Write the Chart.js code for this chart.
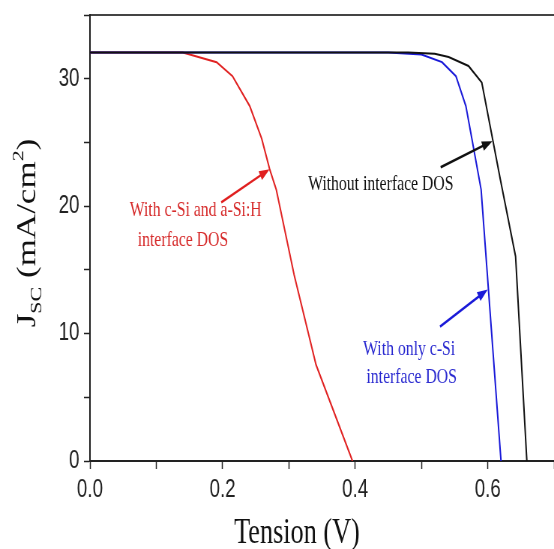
<!DOCTYPE html>
<html lang="en">
<head>
    <meta charset="UTF-8">
    <title>Jsc vs Tension</title>
    <script src="https://cdn.jsdelivr.net/npm/chart.js"></script>
    <style>
        html, body {
            margin: 0;
            padding: 0;
            background: #fff;
            overflow: hidden;
        }
        /* the original figure is squeezed horizontally */
        #wrap {
            width: 739px;
            height: 549px;
            transform: scaleX(0.7497);
            transform-origin: 0 0;
        }
    </style>
</head>
<body>
    <div id="wrap">
        <canvas id="jscChart" width="739" height="549"></canvas>
    </div>

    <script>
        // data (V in volts, J in mA/cm2)
        const noDosV = [0, 0.48, 0.52, 0.541, 0.571, 0.591, 0.619, 0.642, 0.659];
        const noDosJ = [32.05, 32.05, 31.95, 31.7, 31.0, 29.7, 22.1, 16.05, 0];

        const cSiV = [0, 0.45, 0.5, 0.531, 0.552, 0.567, 0.576, 0.59, 0.62];
        const cSiJ = [32.05, 32.05, 31.9, 31.3, 30.2, 27.85, 25.3, 21.3, 0];

        const bothV = [0, 0.14, 0.191, 0.215, 0.241, 0.259, 0.271, 0.281, 0.308, 0.341, 0.396];
        const bothJ = [32.05, 32.05, 31.3, 30.2, 27.85, 25.3, 22.9, 21.3, 14.6, 7.55, 0];

        const xTicks = [0.0, 0.2, 0.4, 0.6];
        const yTicks = [0, 10, 20, 30];

        // annotation texts and arrows, in data units
        const notes = [
            { lines: ['With c-Si and a-Si:H', 'interface DOS'], at: [[0.060, 19.2], [0.072, 16.84]], color: '#d62a2a',
              arrow: [0.198, 20.3, 0.271, 22.9], arrowColor: '#e02020' },
            { lines: ['Without interface DOS'], at: [[0.329, 21.24]], color: '#111',
              arrow: [0.529, 23.05, 0.607, 25.1], arrowColor: '#111' },
            { lines: ['With only c-Si', 'interface DOS'], at: [[0.412, 8.34], [0.417, 6.14]], color: '#2a2ad0',
              arrow: [0.528, 10.54, 0.6, 13.45], arrowColor: '#1a1ad8' }
        ];

        function toPoints(xs, ys) {
            return xs.map((v, i) => ({ x: v, y: ys[i] }));
        }

        const annotate = {
            id: 'annotate',
            afterDatasetsDraw(chart) {
                const ctx = chart.ctx;
                const xs = chart.scales.x, ys = chart.scales.y;
                ctx.save();
                notes.forEach(n => {
                    ctx.font = '21px "Liberation Serif", "Times New Roman", serif';
                    ctx.fillStyle = n.color;
                    ctx.textAlign = 'left';
                    ctx.textBaseline = 'alphabetic';
                    n.lines.forEach((t, i) => {
                        ctx.fillText(t, xs.getPixelForValue(n.at[i][0]), ys.getPixelForValue(n.at[i][1]));
                    });
                    const x1 = xs.getPixelForValue(n.arrow[0]), y1 = ys.getPixelForValue(n.arrow[1]);
                    const x2 = xs.getPixelForValue(n.arrow[2]), y2 = ys.getPixelForValue(n.arrow[3]);
                    const a = Math.atan2(y2 - y1, x2 - x1);
                    ctx.strokeStyle = n.arrowColor;
                    ctx.fillStyle = n.arrowColor;
                    ctx.lineWidth = 2.5;
                    ctx.beginPath();
                    ctx.moveTo(x1, y1);
                    ctx.lineTo(x2 - 10 * Math.cos(a), y2 - 10 * Math.sin(a));
                    ctx.stroke();
                    ctx.beginPath();
                    ctx.moveTo(x2, y2);
                    ctx.lineTo(x2 - 14 * Math.cos(a) + 5 * Math.sin(a), y2 - 14 * Math.sin(a) - 5 * Math.cos(a));
                    ctx.lineTo(x2 - 14 * Math.cos(a) - 5 * Math.sin(a), y2 - 14 * Math.sin(a) + 5 * Math.cos(a));
                    ctx.closePath();
                    ctx.fill();
                });

                // x axis title
                ctx.fillStyle = '#111';
                ctx.font = '35px "Liberation Serif", "Times New Roman", serif';
                ctx.textAlign = 'center';
                ctx.fillText('Tension (V)', 396, 543);

                // y axis title with sub/superscript
                const big = '35px "Liberation Serif", "Times New Roman", serif';
                const small = '22px "Liberation Serif", "Times New Roman", serif';
                const parts = [
                    { t: 'J', f: big, dy: 0 },
                    { t: 'SC', f: small, dy: 8 },
                    { t: ' (mA/cm', f: big, dy: 0 },
                    { t: '2', f: small, dy: -16 },
                    { t: ')', f: big, dy: 0 }
                ];
                let total = 0;
                parts.forEach(p => { ctx.font = p.f; p.w = ctx.measureText(p.t).width; total += p.w; });
                ctx.translate(47, 233);
                ctx.rotate(-Math.PI / 2);
                ctx.textAlign = 'left';
                let cx = -total / 2;
                parts.forEach(p => {
                    ctx.font = p.f;
                    ctx.fillText(p.t, cx, p.dy);
                    cx += p.w;
                });
                ctx.restore();
            }
        };

        const lineSet = (label, xs, ys, color) => ({
            label: label,
            data: toPoints(xs, ys),
            borderColor: color,
            backgroundColor: color,
            borderWidth: 2,
            pointRadius: 0,
            tension: 0,
            fill: false
        });

        new Chart(document.getElementById('jscChart').getContext('2d'), {
            type: 'line',
            data: {
                datasets: [
                    lineSet('Without interface DOS', noDosV, noDosJ, '#111111'),
                    lineSet('With only c-Si interface DOS', cSiV, cSiJ, '#1818d8'),
                    lineSet('With c-Si and a-Si:H interface DOS', bothV, bothJ, '#e02222')
                ]
            },
            options: {
                responsive: false,
                animation: false,
                layout: { padding: { top: 15, right: 0, left: 0, bottom: 0 } },
                plugins: {
                    legend: { display: false },
                    tooltip: { enabled: false }
                },
                scales: {
                    x: {
                        type: 'linear',
                        position: 'bottom',
                        min: 0,
                        max: 0.7,
                        afterFit: s => { s.height = 88; s.paddingRight = 0; s.paddingLeft = 0; },
                        border: { display: true, color: '#222', width: 2 },
                        grid: { drawOnChartArea: false, drawTicks: true, tickLength: 8, tickColor: '#222', tickWidth: 1.5 },
                        ticks: {
                            stepSize: 0.1,
                            padding: 6,
                            color: '#222',
                            font: { family: '"Liberation Sans", Arial, sans-serif', size: 25 },
                            callback: v => {
                                const hit = xTicks.find(t => Math.abs(t - v) < 1e-6);
                                return hit === undefined ? '' : hit.toFixed(1);
                            }
                        }
                    },
                    top: {
                        type: 'linear',
                        position: 'top',
                        afterFit: s => { s.height = 0; s.paddingRight = 0; s.paddingLeft = 0; },
                        border: { display: true, color: '#444', width: 2 },
                        grid: { display: false },
                        ticks: { display: false }
                    },
                    y: {
                        type: 'linear',
                        min: 0,
                        max: 35,
                        afterFit: s => { s.width = 120; s.paddingTop = 0; s.paddingBottom = 0; },
                        border: { display: true, color: '#222', width: 2 },
                        grid: { drawOnChartArea: false, drawTicks: true, tickLength: 8, tickColor: '#222', tickWidth: 1.5 },
                        ticks: {
                            stepSize: 5,
                            padding: 6,
                            color: '#222',
                            font: { family: '"Liberation Sans", Arial, sans-serif', size: 25 },
                            callback: v => yTicks.includes(v) ? String(v) : ''
                        }
                    }
                }
            },
            plugins: [annotate]
        });
    </script>
</body>
</html>
